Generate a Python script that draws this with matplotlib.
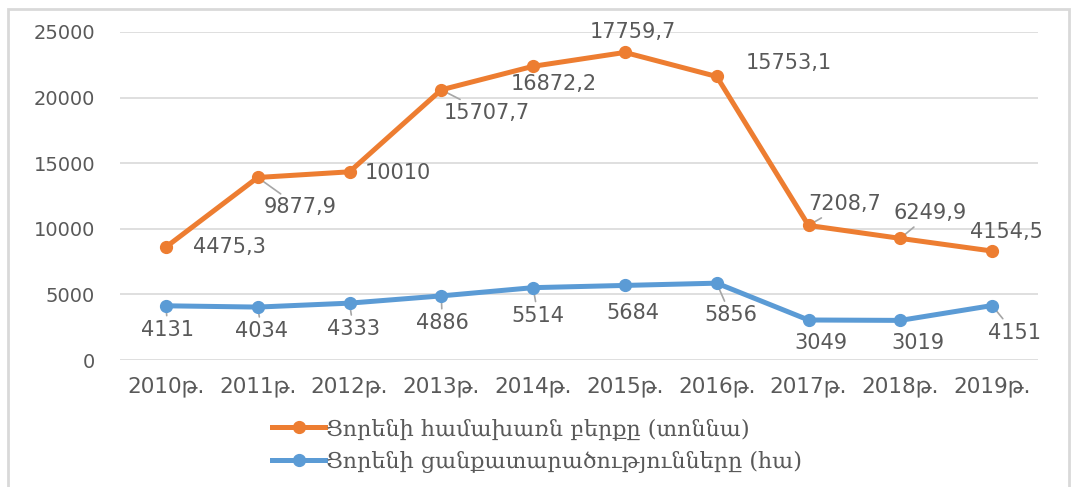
import matplotlib.pyplot as plt
from matplotlib.patches import Rectangle
from matplotlib.lines import Line2D

# === DATA ===
years = ["2010թ.", "2011թ.", "2012թ.", "2013թ.", "2014թ.",
         "2015թ.", "2016թ.", "2017թ.", "2018թ.", "2019թ."]
area = [4131, 4034, 4333, 4886, 5514, 5684, 5856, 3049, 3019, 4151]
harvest = [4475.3, 9877.9, 10010, 15707.7, 16872.2,
           17759.7, 15753.1, 7208.7, 6249.9, 4154.5]
area_name = "Ցորենի ցանքատարածությունները (հա)"
harvest_name = "Ցորենի համախառն բերքը (տոննա)"

# === STYLE ===
ORANGE = "#ED7D31"
BLUE = "#5B9BD5"
GRAY_TXT = "#595959"
GRID = "#d9d9d9"
LEADER = "#a6a6a6"

# label offsets in pixels (dx, dy with dy downwards) and leader-line flags
harvest_off = [(64, 0), (42, 30), (48, 1), (45, 23), (21, 18),
               (8, -20), (72, -13), (36, -21), (30, -25), (14, -19)]
harvest_lead = [False, True, False, True, False, False, False, True, True, False]
area_off = [(2, 24), (4, 24), (4, 26), (1, 27), (5, 28),
            (8, 28), (14, 32), (12, 23), (18, 23), (22, 27)]
area_lead = [True, True, True, True, True, False, True, False, False, True]

W, H = 1071, 487
fig = plt.figure(figsize=(W / 100, H / 100), dpi=100)
fig.patch.set_facecolor("white")
fig.patches.append(Rectangle((8 / W, -0.2), (1069 - 8) / W, 1.2 - 9 / H,
                             transform=fig.transFigure, fill=False,
                             edgecolor=GRID, lw=2))

ax = fig.add_axes([120 / W, 1 - 360 / H, (1038 - 120) / W, (360 - 32) / H])

x = list(range(len(years)))
stacked = [a + h for a, h in zip(area, harvest)]

ax.plot(x, stacked, color=ORANGE, lw=3.6, marker="o", ms=8.5,
        solid_capstyle="round", zorder=4, clip_on=False)
ax.plot(x, area, color=BLUE, lw=3.6, marker="o", ms=8.5,
        solid_capstyle="round", zorder=4, clip_on=False)


def fmt(v):
    s = f"{v:.1f}".rstrip("0").rstrip(".")
    return s.replace(".", ",")


def put_labels(xs, ys, vals, offs, leads):
    for xi, yi, v, (dx, dy), ld in zip(xs, ys, vals, offs, leads):
        kw = {}
        if ld:
            kw["arrowprops"] = dict(arrowstyle="-", color=LEADER, lw=1.2,
                                    shrinkA=1, shrinkB=0)
        ax.annotate(fmt(v), (xi, yi), xytext=(dx, -dy),
                    textcoords="offset pixels", ha="center", va="center",
                    fontsize=15, color=GRAY_TXT, zorder=3, **kw)


put_labels(x, stacked, harvest, harvest_off, harvest_lead)
put_labels(x, area, area, area_off, area_lead)

ax.set_xlim(-0.5, len(years) - 0.5)
ax.set_ylim(0, 25000)
ax.set_yticks(range(0, 25001, 5000))
ax.set_xticks(x)
ax.set_xticklabels(years)
ax.tick_params(axis="both", length=0, labelcolor=GRAY_TXT)
ax.tick_params(axis="y", pad=18, labelsize=14)
ax.tick_params(axis="x", pad=12, labelsize=15.5)
ax.grid(axis="y", color=GRID, lw=1.2)
ax.set_axisbelow(True)
for s in ax.spines.values():
    s.set_visible(False)

handles = [
    Line2D([], [], color=ORANGE, lw=3.6, marker="o", ms=8.5),
    Line2D([], [], color=BLUE, lw=3.6, marker="o", ms=8.5),
]
fig.legend(handles, [harvest_name, area_name], loc="upper left",
           bbox_to_anchor=(252 / W, 1 - 398 / H), frameon=False,
           handlelength=2.4, handletextpad=0.05, labelspacing=0.5,
           prop={"family": "DejaVu Serif", "size": 16}, labelcolor=GRAY_TXT)

fig.savefig("out.png", dpi=100)
